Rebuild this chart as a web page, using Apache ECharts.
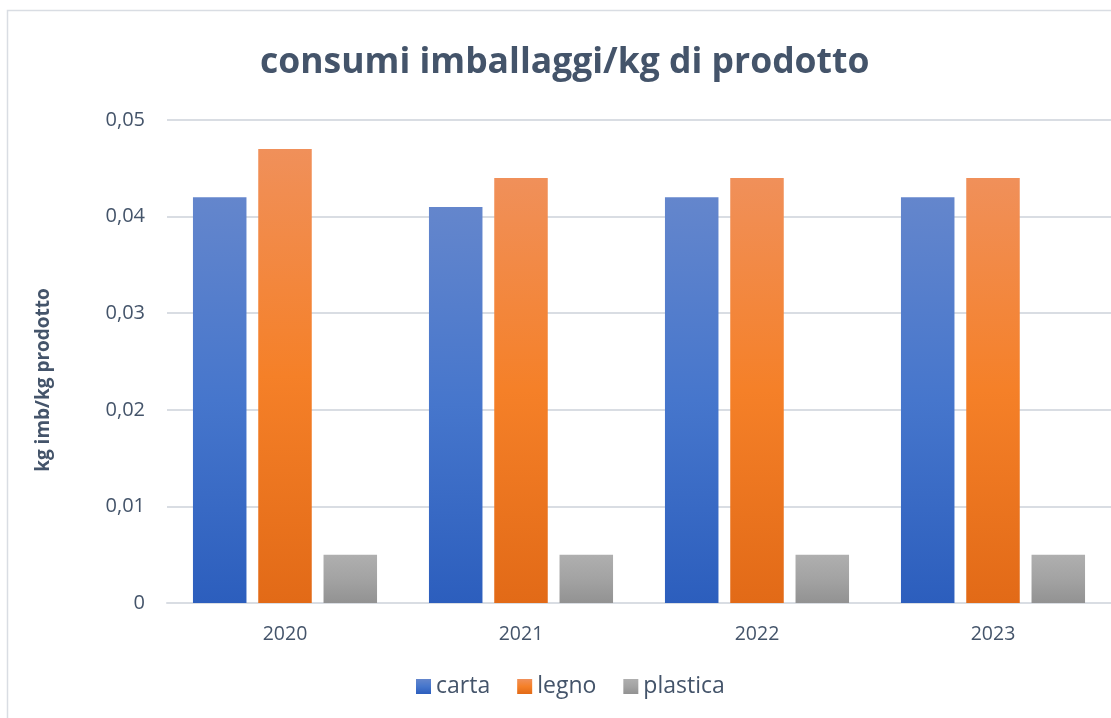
<!DOCTYPE html>
<html>
<head>
<meta charset="utf-8">
<title>consumi imballaggi/kg di prodotto</title>
<script src="https://cdn.jsdelivr.net/npm/echarts@6/dist/echarts.min.js"></script>
<style>
  html, body { margin: 0; padding: 0; background: #fff; }
  #chart { width: 1111px; height: 718px; }
</style>
</head>
<body>
<div id="chart"></div>
<script>
var years = ['2020', '2021', '2022', '2023']
var carta = [0.042, 0.041, 0.042, 0.042]
var legno = [0.047, 0.044, 0.044, 0.044]
var plastica = [0.005, 0.005, 0.005, 0.005]

var textColor = '#44546A'
var fontFamily = '"Open Sans", "Noto Sans", sans-serif'

function grad(top, mid, bottom) {
  return new echarts.graphic.LinearGradient(0, 0, 0, 1, [
    { offset: 0, color: top },
    { offset: 0.5, color: mid },
    { offset: 1, color: bottom }
  ])
}

var chart = echarts.init(document.getElementById('chart'), null, { renderer: 'canvas' })

var option = {
  animation: false,
  textStyle: { fontFamily: fontFamily },
  graphic: [{
    type: 'rect',
    shape: { x: 7.5, y: 10.5, width: 1200, height: 800 },
    style: { fill: 'none', stroke: '#D9DDE3', lineWidth: 1.5 },
    silent: true
  }, {
    // y axis title, sits a bit below the plot's middle like the original
    type: 'text',
    x: 44,
    y: 380,
    rotation: Math.PI / 2,
    style: {
      text: 'kg imb/kg prodotto',
      fill: textColor,
      font: 'bold 19px ' + fontFamily,
      align: 'center',
      verticalAlign: 'middle'
    },
    silent: true
  }],
  title: {
    text: 'consumi imballaggi/kg di prodotto',
    left: 255,
    top: 40,
    textStyle: {
      color: textColor,
      fontSize: 35.5,
      fontWeight: 'bold',
      fontFamily: fontFamily
    }
  },
  legend: {
    bottom: 15,
    left: 411,
    itemWidth: 15,
    itemHeight: 15,
    itemGap: 27,
    icon: 'rect',
    textStyle: { color: textColor, fontSize: 23, fontFamily: fontFamily },
    data: ['carta', 'legno', 'plastica']
  },
  grid: {
    left: 167,
    right: 0,
    top: 120,
    bottom: 115,
    containLabel: false
  },
  xAxis: {
    type: 'category',
    data: years,
    axisLine: { show: true, lineStyle: { color: '#D9DDE3', width: 2 } },
    axisTick: { show: false },
    axisLabel: { color: textColor, fontSize: 19.5, margin: 21 }
  },
  yAxis: {
    type: 'value',
    min: 0,
    max: 0.05,
    interval: 0.01,
    axisLine: { show: false },
    axisTick: { show: false },
    axisLabel: {
      color: textColor,
      fontSize: 20,
      margin: 22,
      formatter: function(v) {
        return String(Math.round(v * 100) / 100).replace('.', ',')
      }
    },
    splitLine: { lineStyle: { color: '#D9DDE3', width: 2 } }
  },
  series: [
    {
      name: 'carta',
      type: 'bar',
      data: carta,
      barGap: '22%',
      barCategoryGap: '22%',
      itemStyle: { color: grad('#6486CC', '#4676CC', '#2C5EBD') }
    },
    {
      name: 'legno',
      type: 'bar',
      data: legno,
      itemStyle: { color: grad('#F0905A', '#F58028', '#E26A17') }
    },
    {
      name: 'plastica',
      type: 'bar',
      data: plastica,
      itemStyle: { color: grad('#AFAFAF', '#A3A3A3', '#929292') }
    }
  ]
}

chart.setOption(option)
</script>
</body>
</html>
